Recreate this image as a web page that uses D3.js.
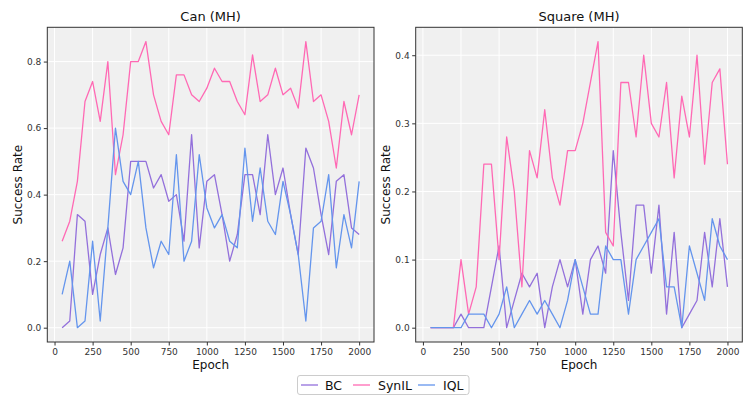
<!DOCTYPE html>
<html><head><meta charset="utf-8">
<script src="https://cdn.jsdelivr.net/npm/d3@7"></script>
<style>body{margin:0;background:#fff}svg{display:block}text{font-family:"DejaVu Sans",sans-serif}</style>
</head><body><svg id="c" width="751" height="402"></svg>
<script>
const epochs = d3.range(50, 2001, 50);
const seriesNames = ["BC", "SynIL", "IQL"];
const colors = ["#9370DB", "#FF69B4", "#6495ED"];

const canBC = [0.00,0.02,0.34,0.32,0.10,0.22,0.30,0.16,0.24,0.50,0.50,0.50,0.42,0.46,0.38,0.40,0.26,0.58,0.24,0.44,0.46,0.34,0.20,0.28,0.46,0.46,0.34,0.58,0.40,0.48,0.34,0.22,0.54,0.48,0.34,0.22,0.44,0.46,0.30,0.28];
const canSynIL = [0.26,0.32,0.44,0.68,0.74,0.62,0.80,0.46,0.58,0.80,0.80,0.86,0.70,0.62,0.58,0.76,0.76,0.70,0.68,0.72,0.78,0.74,0.74,0.68,0.64,0.82,0.68,0.70,0.78,0.70,0.72,0.66,0.86,0.68,0.70,0.62,0.48,0.68,0.58,0.70];
const canIQL = [0.10,0.20,0.00,0.02,0.26,0.02,0.30,0.60,0.44,0.40,0.50,0.30,0.18,0.26,0.22,0.52,0.20,0.26,0.52,0.36,0.30,0.34,0.26,0.24,0.54,0.32,0.48,0.32,0.28,0.44,0.34,0.22,0.02,0.30,0.32,0.46,0.18,0.34,0.24,0.44];

const sqBC = [0,0,0,0,0.02,0,0,0,0.06,0.12,0,0.04,0.08,0.06,0.08,0,0.06,0.10,0.06,0.10,0.02,0.10,0.12,0.08,0.26,0.14,0.04,0.18,0.18,0.08,0.18,0.02,0.14,0,0.02,0.04,0.14,0.06,0.16,0.06];
const sqSynIL = [0,0,0,0,0.10,0.02,0.06,0.24,0.24,0.10,0.28,0.20,0.06,0.26,0.22,0.32,0.22,0.18,0.26,0.26,0.30,0.36,0.42,0.14,0.12,0.36,0.36,0.28,0.40,0.30,0.28,0.36,0.22,0.34,0.28,0.40,0.24,0.36,0.38,0.24];
const sqIQL = [0,0,0,0,0,0.02,0.02,0.02,0,0.02,0.06,0,0.02,0.04,0.02,0.04,0.02,0,0.04,0.10,0.06,0.02,0.02,0.12,0.10,0.10,0.02,0.10,0.12,0.14,0.16,0.06,0.06,0,0.12,0.08,0.04,0.16,0.12,0.10];

const xTicks = [0,250,500,750,1000,1250,1500,1750,2000];
const canYTicks = [0,0.2,0.4,0.6,0.8];
const sqYTicks = [0,0.1,0.2,0.3,0.4];

const panels = [
  {title:"Can (MH)", data:[canBC, canSynIL, canIQL], yTicks:canYTicks, left:47.3, right:374},
  {title:"Square (MH)", data:[sqBC, sqSynIL, sqIQL], yTicks:sqYTicks, left:415.7, right:742.3}
];
const plotTop = 27.3, plotBottom = 342;
const svg = d3.select("#c");

panels.forEach(p => {
  const all = p.data.flat();
  const ymax = d3.max(all), ymin = d3.min(all);
  const ym = (ymax - ymin) * 0.05;
  const xm = (2000 - 50) * 0.05;
  const x = d3.scaleLinear().domain([50 - xm, 2000 + xm]).range([p.left, p.right]);
  const y = d3.scaleLinear().domain([ymin - ym, ymax + ym]).range([plotBottom, plotTop]);
  const g = svg.append("g");
  g.append("rect").attr("x", p.left).attr("y", plotTop).attr("width", p.right - p.left).attr("height", plotBottom - plotTop).attr("fill", "#f0f0f0");
  g.selectAll(".gx").data(xTicks).enter().append("line")
    .attr("x1", d => x(d)).attr("x2", d => x(d)).attr("y1", plotTop).attr("y2", plotBottom)
    .attr("stroke", "#fff").attr("stroke-width", 1);
  g.selectAll(".gy").data(p.yTicks).enter().append("line")
    .attr("y1", d => y(d)).attr("y2", d => y(d)).attr("x1", p.left).attr("x2", p.right)
    .attr("stroke", "#fff").attr("stroke-width", 1);
  const line = d3.line().x((d, i) => x(epochs[i])).y(d => y(d));
  p.data.forEach((s, k) => {
    g.append("path").datum(s).attr("d", line).attr("fill", "none")
      .attr("stroke", colors[k]).attr("stroke-width", 1.3).attr("stroke-linejoin", "round");
  });
  g.append("rect").attr("x", p.left).attr("y", plotTop).attr("width", p.right - p.left).attr("height", plotBottom - plotTop)
    .attr("fill", "none").attr("stroke", "#333").attr("stroke-width", 1);
  const xa = g.append("g").attr("transform", `translate(0,${plotBottom})`)
    .call(d3.axisBottom(x).tickValues(xTicks).tickSize(3.5).tickPadding(3).tickFormat(d3.format("d")));
  const ya = g.append("g").attr("transform", `translate(${p.left},0)`)
    .call(d3.axisLeft(y).tickValues(p.yTicks).tickSize(3.5).tickPadding(2.5).tickFormat(d3.format(".1f")));
  [xa, ya].forEach(a => {
    a.select(".domain").remove();
    a.selectAll("line").attr("stroke", "#333");
    a.selectAll("text").attr("font-size", 9).attr("fill", "#333").attr("font-family", "DejaVu Sans");
  });
  const cx = (p.left + p.right) / 2;
  g.append("text").attr("x", cx).attr("y", 20.5).attr("text-anchor", "middle")
    .attr("font-size", 13).attr("fill", "#111").text(p.title);
  g.append("text").attr("x", cx).attr("y", 368.5).attr("text-anchor", "middle")
    .attr("font-size", 12).attr("fill", "#111").text("Epoch");
  g.append("text").attr("transform", `translate(${p.left - 25.5},${(plotTop + plotBottom) / 2}) rotate(-90)`)
    .attr("text-anchor", "middle").attr("font-size", 12).attr("fill", "#111").text("Success Rate");
});

const lg = svg.append("g");
lg.append("rect").attr("x", 297.5).attr("y", 375.5).attr("width", 171.5).attr("height", 19).attr("rx", 2.5)
  .attr("fill", "#fff").attr("stroke", "#ccc");
const lineX = [301, 353, 418];
const textX = [325, 378, 443];
seriesNames.forEach((n, i) => {
  lg.append("line").attr("x1", lineX[i]).attr("x2", lineX[i] + 17).attr("y1", 385).attr("y2", 385)
    .attr("stroke", colors[i]).attr("stroke-width", 1.3);
  lg.append("text").attr("x", textX[i]).attr("y", 389.5).attr("font-size", 12.5).attr("fill", "#111").text(n);
});
</script></body></html>
